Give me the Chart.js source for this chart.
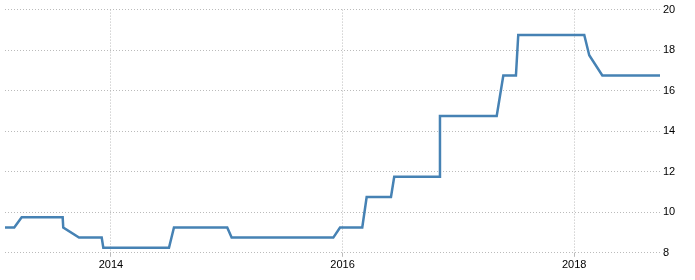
<!DOCTYPE html>
<html>
<head>
<meta charset="utf-8">
<script src="https://cdn.jsdelivr.net/npm/chart.js@4"></script>
<style>
  html, body { margin: 0; padding: 0; background: #fff; }
  #wrap { width: 695px; height: 280px; position: relative; }
</style>
</head>
<body>
<div id="wrap"><canvas id="myChart"></canvas></div>
<script>
// dates as decimal years, rates in percent
var dates = [2013.085, 2013.165, 2013.229, 2013.583, 2013.588, 2013.724, 2013.920, 2013.934,
    2014.501, 2014.544, 2015.004, 2015.042, 2015.920, 2015.978, 2016.170, 2016.208,
    2016.418, 2016.446, 2016.835, 2016.841, 2017.331, 2017.388, 2017.497, 2017.517,
    2018.087, 2018.130, 2018.243, 2018.741];
var rates = [9.25, 9.25, 9.75, 9.75, 9.25, 8.75, 8.75, 8.25,
    8.25, 9.25, 9.25, 8.75, 8.75, 9.25, 9.25, 10.75,
    10.75, 11.75, 11.75, 14.75, 14.75, 16.75, 16.75, 18.75,
    18.75, 17.75, 16.75, 16.75];
var yearTicks = [2014, 2016, 2018];
var yMin = 8, yMax = 20, yStep = 2;

var points = [];
for (var i = 0; i < dates.length; i++) {
    points.push({ x: dates[i], y: rates[i] });
}

var ctx = document.getElementById('myChart');
var myChart = new Chart(ctx, {
    type: 'line',
    data: {
        datasets: [{
            data: points,
            borderColor: '#4682b4',
            borderWidth: 2.5,
            pointRadius: 0,
            tension: 0,
            fill: false
        }]
    },
    options: {
        responsive: true,
        maintainAspectRatio: false,
        animation: false,
        layout: { padding: { left: 5, top: 4, right: 0, bottom: 6 } },
        plugins: {
            legend: { display: false },
            tooltip: { enabled: false }
        },
        scales: {
            x: {
                type: 'linear',
                min: dates[0],
                max: dates[dates.length - 1],
                afterBuildTicks: function(axis) {
                    axis.ticks = yearTicks.map(function(v) { return { value: v }; });
                },
                grid: { color: '#bbbbbb', drawTicks: true, tickLength: 4 },
                border: { display: false, dash: [1, 2] },
                ticks: {
                    color: '#000',
                    padding: 2,
                    maxRotation: 0,
                    font: { family: 'Arial, "Liberation Sans"', size: 11 },
                    callback: function(v) { return String(v); }
                }
            },
            y: {
                position: 'right',
                min: yMin,
                max: yMax,
                afterFit: function(scale) { scale.width = 35; },
                grid: { color: '#bbbbbb', drawTicks: false },
                border: { display: false, dash: [1, 2] },
                ticks: {
                    stepSize: yStep,
                    color: '#000',
                    padding: 3,
                    font: { family: 'Arial, "Liberation Sans"', size: 11 }
                }
            }
        }
    }
});
</script>
</body>
</html>
